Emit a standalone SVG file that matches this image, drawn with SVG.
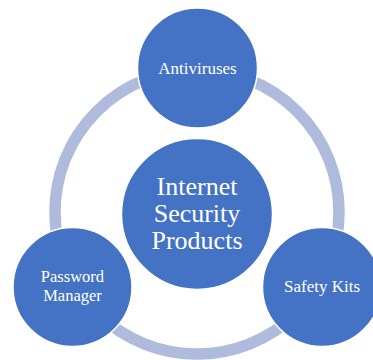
<svg xmlns="http://www.w3.org/2000/svg" width="373" height="360" viewBox="0 0 373 360">
<style>
.node{fill:#4472C4;stroke:#FFFFFF;stroke-width:1.5}
.lbl{fill:#FFFFFF;font-family:"Liberation Serif","Times New Roman",serif;text-anchor:middle}
.sm{font-size:17px}
.pm{font-size:16.5px}
.lg{font-size:26px}
.ring{fill:none;stroke:#AFBBDC;stroke-width:11.5}
</style>
<rect width="373" height="360" fill="#FFFFFF"/>
<g id="connectors">
<circle class="ring" cx="197" cy="212" r="142"/>
</g>
<g id="center">
<circle class="node" cx="197" cy="214" r="75.5"/>
<text class="lbl lg" x="197" y="195">Internet</text>
<text class="lbl lg" x="197" y="222">Security</text>
<text class="lbl lg" x="197" y="249">Products</text>
</g>
<g id="antiviruses">
<circle class="node" cx="197.5" cy="68" r="60"/>
<text class="lbl sm" x="197.5" y="74">Antiviruses</text>
</g>
<g id="password-manager">
<circle class="node" cx="72.5" cy="287" r="59.5"/>
<text class="lbl pm" x="72.5" y="282">Password</text>
<text class="lbl pm" x="72.5" y="300.5">Manager</text>
</g>
<g id="safety-kits">
<circle class="node" cx="322" cy="287" r="59.5"/>
<text class="lbl sm" x="322" y="292">Safety Kits</text>
</g>
</svg>
